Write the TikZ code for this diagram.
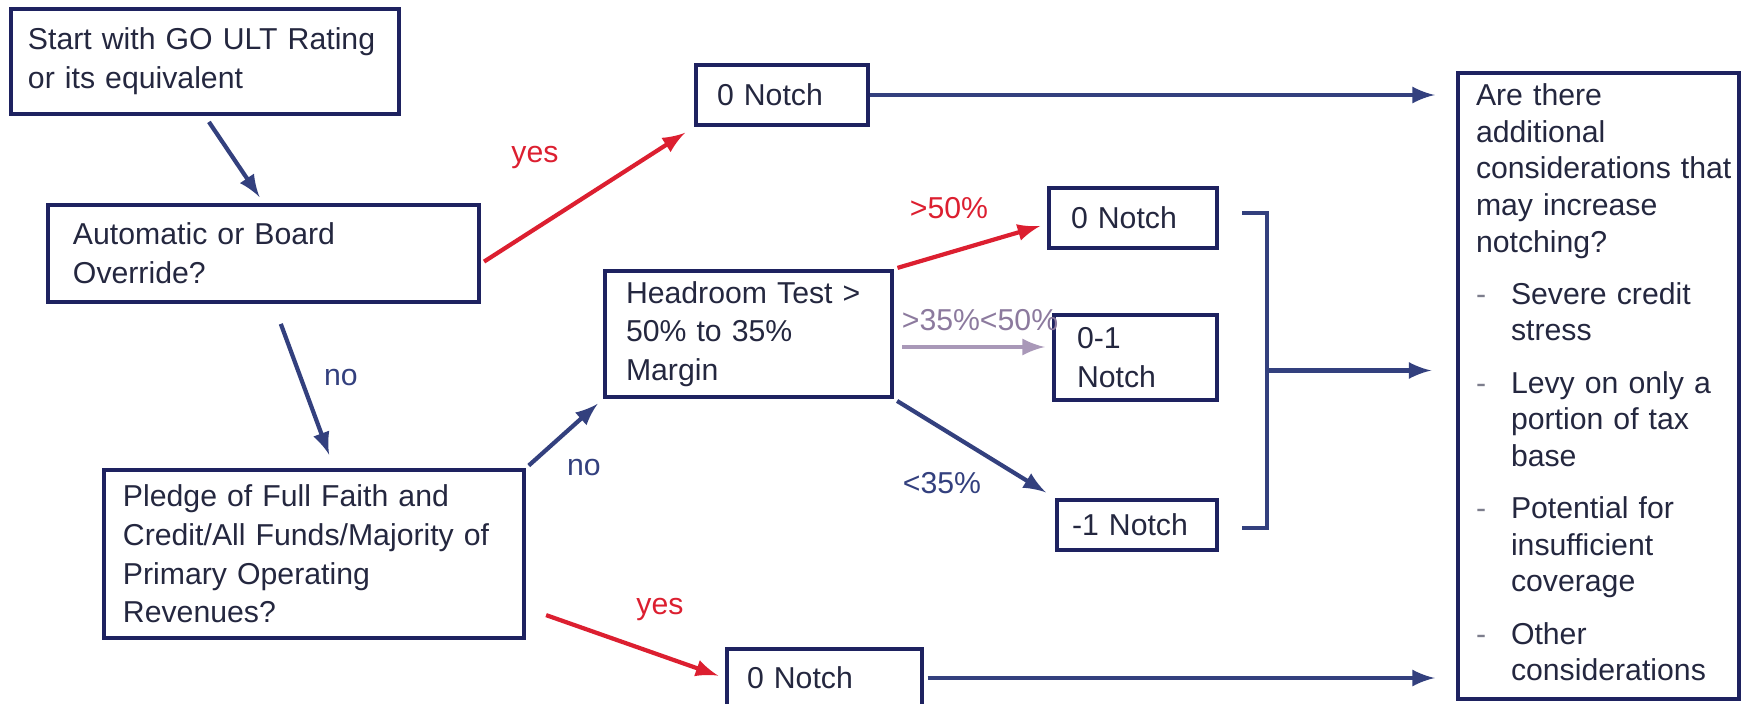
\documentclass[tikz,border=0pt]{standalone}
\usepackage{fontspec}
\setmainfont{Liberation Sans}
\usetikzlibrary{calc}
\definecolor{navy}{HTML}{1E2260}
\definecolor{arrblue}{HTML}{33407E}
\definecolor{redarr}{HTML}{DC1F30}
\definecolor{purparr}{HTML}{A998B8}
\definecolor{purptxt}{HTML}{8C7A9E}
\definecolor{txt}{HTML}{24273F}

\begin{document}
\begin{tikzpicture}[
    box/.style={draw=navy,line width=1.2pt,align=left,text=txt,inner ysep=0pt,
      font=\fontsize{8.6}{11}\selectfont},
    arr/.style={->,>=latex,draw=arrblue,line width=1.2pt},
    yesarr/.style={arr,draw=redarr},
    midarr/.style={arr,draw=purparr},
    lbl/.style={text=arrblue,font=\fontsize{8.6}{11}\selectfont},
    yeslbl/.style={lbl,text=redarr}]
        \useasboundingbox (0,0) rectangle (17.54,-7.04);
        \node[box,inner xsep=0.17cm,text width=3.54cm,minimum height=1.05cm] (start) at (2.05,-0.615) {Start with GO ULT Rating\\or its equivalent};
        \node[box,inner xsep=0.25cm,text width=3.81cm,minimum height=0.97cm] (auto) at (2.635,-2.535) {Automatic or Board\\Override?};
        \node[box,inner xsep=0.19cm,text width=3.82cm,minimum height=1.68cm] (pledge) at (3.14,-5.54) {Pledge of Full Faith and\\Credit/All Funds/Majority of\\Primary Operating\\Revenues?};
        \node[box,inner xsep=0.21cm,text width=2.45cm,minimum height=1.26cm] (head) at (7.485,-3.34) {Headroom Test >\\50\% to 35\%\\Margin};
        \node[box,inner xsep=0.21cm,text width=1.30cm,minimum height=0.60cm] (topzero) at (7.82,-0.95) {0 Notch};
        \node[box,inner xsep=0.22cm,text width=1.24cm,minimum height=0.60cm] (midzero) at (11.33,-2.18) {0 Notch};
        \node[box,inner xsep=0.23cm,text width=1.17cm,minimum height=0.85cm] (zeroone) at (11.355,-3.575) {0-1\\Notch};
        \node[box,inner xsep=0.15cm,text width=1.30cm,minimum height=0.50cm] (minusone) at (11.37,-5.25) {-1 Notch};
        \node[box,inner xsep=0.20cm,text width=1.55cm,minimum height=0.58cm] (botzero) at (8.245,-6.78) {0 Notch};
        \node[box,inner xsep=0.18cm,text width=2.45cm,minimum height=6.26cm,
          font=\fontsize{8.6}{10.4}\selectfont] (consid) at (15.985,-3.86) {%
          \begin{tabular}{@{}p{0.35cm}@{}l@{}}
          \multicolumn{2}{@{}l@{}}{Are there}\\
          \multicolumn{2}{@{}l@{}}{additional}\\
          \multicolumn{2}{@{}l@{}}{considerations that}\\
          \multicolumn{2}{@{}l@{}}{may increase}\\
          \multicolumn{2}{@{}l@{}}{notching?}\\[4.5pt]
          \textcolor{txt!60}{-}&Severe credit\\
          &stress\\[4.5pt]
          \textcolor{txt!60}{-}&Levy on only a\\
          &portion of tax\\
          &base\\[4.5pt]
          \textcolor{txt!60}{-}&Potential for\\
          &insufficient\\
          &coverage\\[4.5pt]
          \textcolor{txt!60}{-}&Other\\
          &considerations
          \end{tabular}};
        \draw[arr,shorten <=2pt,shorten >=2pt] (start.south) -- (auto.north);
        \draw[yesarr,shorten <=1pt,shorten >=3pt] ([yshift=-1mm]auto.east) -- (topzero.south west);
        \node[yeslbl] (yesone) at (5.35,-1.57) {yes};
        \draw[arr,shorten >=3pt] (topzero.east) -- (topzero.east -| consid.west) [shorten >=6pt];
        \draw[arr,shorten <=6pt,shorten >=4pt] ([xshift=1mm]auto.south) -- ([xshift=2mm]pledge.north);
        \node[lbl] (noone) at (3.41,-3.78) {no};
        \draw[arr,shorten <=1pt,shorten >=2pt] (pledge.north east) -- (head.south west);
        \node[lbl] (notwo) at (5.84,-4.68) {no};
        \draw[yesarr,shorten <=1pt,shorten >=2pt] (head.north east) -- ([yshift=-0.6mm]midzero.west);
        \node[yeslbl] (gtfifty) at (9.49,-2.08) {>50\%};
        \coordinate (midstart) at ([xshift=0.8mm,yshift=-1.3mm]head.east);
        \draw[midarr,shorten >=2pt] (midstart) -- (midstart -| zeroone.west);
        \node[lbl,text=purptxt] (between) at (9.80,-3.20) {>35\%<50\%};
        \draw[arr,shorten <=1pt,shorten >=3pt] (head.south east) -- (minusone.north west);
        \node[lbl] (ltthirtyfive) at (9.42,-4.83) {<35\%};
        \draw[yesarr,shorten >=2pt] ([xshift=2mm,yshift=2.5mm]pledge.south east) -- (botzero.west);
        \node[yeslbl] (yestwo) at (6.60,-6.09) {yes};
        \draw[arr,shorten <=1pt,shorten >=6pt] (botzero.east) -- (botzero.east -| consid.west);
        \coordinate (brtop) at ([xshift=2.3mm,yshift=0.5mm]midzero.east);
        \coordinate (brbot) at ([xshift=2.3mm,yshift=-0.3mm]minusone.east);
        \draw[draw=arrblue,line width=1.2pt] (brtop) -- ++(0.25,0) |- (brbot);
        \coordinate (brmid) at ($(brtop)!.5!(brbot)+(0.25,0)$);
        \draw[arr,shorten >=7pt] (brmid) -- (brmid -| consid.west);
\end{tikzpicture}
\end{document}
